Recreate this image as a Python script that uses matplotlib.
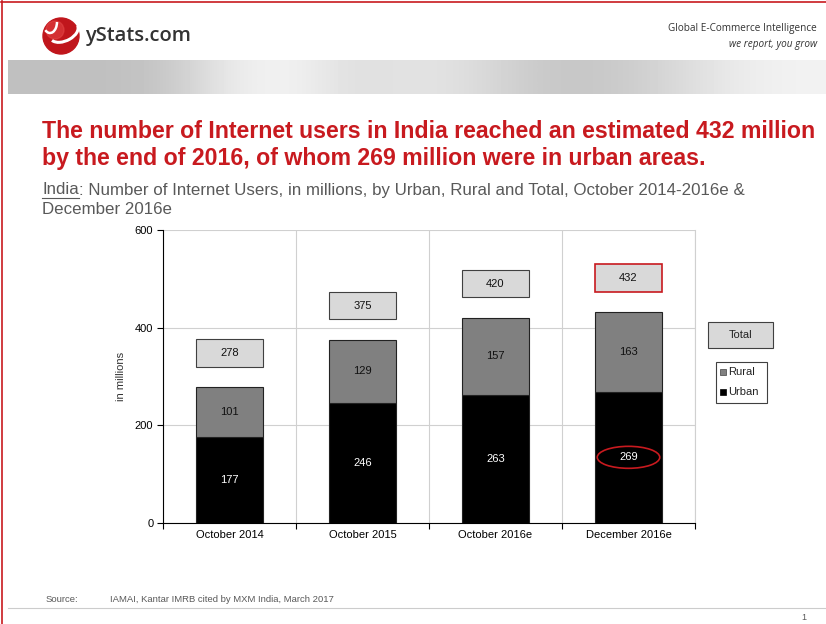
import matplotlib
matplotlib.use("Agg")
import matplotlib.pyplot as plt
import numpy as np
from matplotlib.patches import Rectangle, Ellipse, Circle, Arc

plt.rcParams['font.family'] = ['Liberation Sans', 'DejaVu Sans']

categories = ["October 2014", "October 2015", "October 2016e", "December 2016e"]
urban = [177, 246, 263, 269]
rural = [101, 129, 157, 163]
total = [278, 375, 420, 432]
yticks = [0, 200, 400, 600]

RED = "#c81a1f"
URBAN_C = "#000000"
RURAL_C = "#808080"
TOTAL_C = "#d9d9d9"

fig = plt.figure(figsize=(8.26, 6.24), dpi=100)

# page decoration in pixel coords
bg = fig.add_axes([0, 0, 1, 1])
bg.set_xlim(0, 826)
bg.set_ylim(624, 0)
bg.axis("off")
bg.plot([1, 826], [1.5, 1.5], color=RED, lw=1.2)
bg.plot([1.5, 1.5], [1, 624], color=RED, lw=1.2)

# logo
bg.add_patch(Circle((61, 36), 18, color="#c0161c", zorder=2))
bg.add_patch(Circle((55, 30), 9, color="#e84a4a", alpha=0.5, zorder=2))
bg.add_patch(Arc((64, 32), 30, 18, angle=-25, theta1=0, theta2=170, color="white",
                 lw=2.2, zorder=3))
bg.add_patch(Arc((50, 22), 14, 22, angle=0, theta1=0, theta2=120, color="white",
                 lw=1.8, zorder=3))
bg.text(85, 36, "yStats.com", fontsize=14.5, color="#333333", va="center",
        fontweight="semibold", family=["Open Sans", "DejaVu Sans"])
bg.text(817, 28, "Global E-Commerce Intelligence", fontsize=7.2, color="#333333",
        ha="right", va="center", family=["Open Sans", "DejaVu Sans"])
bg.text(817, 44, "we report, you grow", fontsize=7.2, color="#333333", style="italic",
        ha="right", va="center", family=["Open Sans", "DejaVu Sans"])

# grey banner with a light gradient
grad = np.array([[0.75, 0.75, 0.77, 0.92, 0.96, 0.86, 0.90, 0.86, 0.78, 0.78, 0.84, 0.92, 0.95]])
bg.imshow(grad, cmap="gray", vmin=0, vmax=1, extent=(8, 826, 94, 60), aspect="auto",
          interpolation="bicubic", zorder=0)
bg.set_xlim(0, 826)
bg.set_ylim(624, 0)

# title
bg.text(42, 131, "The number of Internet users in India reached an estimated 432 million",
        fontsize=16.7, fontweight="bold", color=RED, va="center")
bg.text(42, 159, "by the end of 2016, of whom 269 million were in urban areas.",
        fontsize=16.7, fontweight="bold", color=RED, va="center")

sub_c = "#595959"
t_india = bg.text(42, 190, "India", fontsize=12.2, color=sub_c, va="center")
fig.canvas.draw()
bb = t_india.get_window_extent().transformed(bg.transData.inverted())
x_end = bb.x1
bg.plot([42, x_end], [198, 198], color=sub_c, lw=0.8)
bg.text(x_end, 190, ": Number of Internet Users, in millions, by Urban, Rural and Total, October 2014-2016e &",
        fontsize=12.2, color=sub_c, va="center")
bg.text(42, 209, "December 2016e", fontsize=12.2, color=sub_c, va="center")

# footer
bg.text(46, 599, "Source:", fontsize=6.8, color=sub_c, va="center")
bg.text(110, 599, "IAMAI, Kantar IMRB cited by MXM India, March 2017", fontsize=6.8,
        color=sub_c, va="center")
bg.plot([8, 826], [608, 608], color="#cccccc", lw=0.8)
bg.text(801, 617, "1", fontsize=6.5, color=sub_c, va="center")

# legend
bg.add_patch(Rectangle((708, 322), 65, 26, facecolor=TOTAL_C, edgecolor="#404040", lw=0.8))
bg.text(740.5, 335, "Total", fontsize=8, ha="center", va="center", color="#222222")
bg.add_patch(Rectangle((716, 362), 51, 41, facecolor="white", edgecolor="#404040", lw=0.8))
bg.add_patch(Rectangle((720, 369), 6, 6, facecolor=RURAL_C, edgecolor="#404040", lw=0.5))
bg.text(728, 372, "Rural", fontsize=8, va="center", color="#222222")
bg.add_patch(Rectangle((720, 389), 6, 6, facecolor=URBAN_C, edgecolor="#000000", lw=0.5))
bg.text(728, 392, "Urban", fontsize=8, va="center", color="#222222")

# chart
ax = fig.add_axes([163 / 826, 1 - 523 / 624, 532 / 826, 293 / 624])
x = np.arange(len(categories))
w = 0.5
ax.bar(x, urban, w, color=URBAN_C, edgecolor="#222222", lw=0.8, zorder=3)
ax.bar(x, rural, w, bottom=urban, color=RURAL_C, edgecolor="#222222", lw=0.8, zorder=3)

for i in range(len(categories)):
    last = i == len(categories) - 1
    ax.text(x[i], urban[i] / 2, str(urban[i]), color="white", fontsize=8,
            ha="center", va="center", zorder=4)
    ax.text(x[i], urban[i] + rural[i] / 2, str(rural[i]), color="#111111", fontsize=8,
            ha="center", va="center", zorder=4)
    ax.add_patch(Rectangle((x[i] - w / 2, total[i] + 42), w, 56, facecolor=TOTAL_C,
                           edgecolor=RED if last else "#404040",
                           lw=1.2 if last else 0.8, zorder=3))
    ax.text(x[i], total[i] + 70, str(total[i]), color="#111111", fontsize=8,
            ha="center", va="center", zorder=4)

ax.add_patch(Ellipse((x[-1], urban[-1] / 2), 0.47, 45, fill=False, edgecolor=RED,
                     lw=1.2, zorder=5))

ax.set_xlim(-0.5, len(categories) - 0.5)
ax.set_ylim(0, 600)
ax.set_yticks(yticks)
ax.tick_params(axis="y", labelsize=8, length=4, width=0.8, pad=3)
ax.set_xticks(x)
ax.set_xticklabels(categories, fontsize=8)
ax.tick_params(axis="x", length=0, pad=5)
ax.set_xticks(np.arange(-0.5, len(categories)), minor=True)
ax.tick_params(axis="x", which="minor", length=4, width=0.8, direction="out")
ax.grid(axis="y", color="#d0d0d0", lw=0.8, zorder=0)
ax.grid(axis="x", which="minor", color="#d0d0d0", lw=0.8, zorder=0)
ax.spines["top"].set_visible(False)
ax.spines["right"].set_color("#d0d0d0")
ax.spines["left"].set_linewidth(0.8)
ax.spines["bottom"].set_linewidth(0.8)
ax.set_ylabel("in millions", fontsize=8, color="#333333", labelpad=6)

fig.savefig("out.png", dpi=100)
